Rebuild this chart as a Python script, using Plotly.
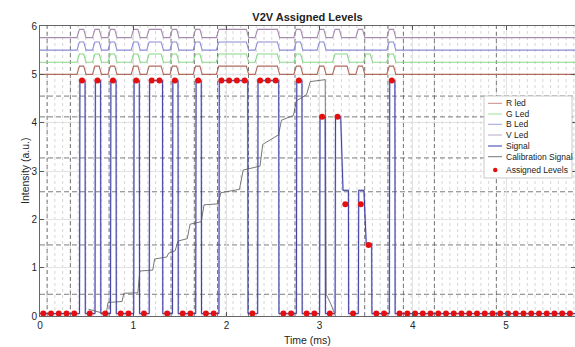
import plotly.graph_objects as go

# ---------------- data ----------------
T = 0.0831          # symbol period (ms)
T0 = 0.035          # time of first symbol sample (ms)
X_END = 5.74

# assigned (quantised) level per symbol
assigned_levels = [
    0.05, 0.05, 0.05, 0.05, 0.05, 4.87, 0.05, 4.87, 0.05, 4.87,
    0.05, 0.05, 4.87, 0.05, 4.87, 4.87, 0.05, 4.87, 0.05, 0.05,
    4.87, 0.05, 0.05, 4.87, 4.87, 4.87, 4.87, 0.05, 4.87, 4.87,
    4.87, 0.05, 0.05, 4.87, 0.05, 0.05, 4.12, 0.05, 4.12, 2.31,
    0.05, 2.31, 1.47, 0.05, 0.05, 4.87, 0.05, 0.05, 0.05, 0.05,
    0.05, 0.05, 0.05, 0.05, 0.05, 0.05, 0.05, 0.05, 0.05, 0.05,
    0.05, 0.05, 0.05, 0.05, 0.05, 0.05, 0.05, 0.05, 0.05,
]
# measured signal level per symbol
signal_levels = [
    0.05, 0.05, 0.05, 0.05, 0.05, 4.87, 0.05, 4.87, 0.05, 4.87,
    0.05, 0.05, 4.87, 0.05, 4.87, 4.87, 0.05, 4.87, 0.05, 0.05,
    4.87, 0.05, 0.05, 4.87, 4.87, 4.87, 4.87, 0.05, 4.87, 4.87,
    4.87, 0.05, 0.05, 4.87, 0.05, 0.05, 4.12, 0.05, 4.12, 2.60,
    0.05, 2.60, 1.50, 0.05, 0.05, 4.87, 0.05, 0.05, 0.05, 0.05,
    0.05, 0.05, 0.05, 0.05, 0.05, 0.05, 0.05, 0.05, 0.05, 0.05,
    0.05, 0.05, 0.05, 0.05, 0.05, 0.05, 0.05, 0.05, 0.05,
]
# LED on/off state per symbol
led_R = [0,0,0,0,0,1,0,1,0,1, 0,0,1,0,1,1,0,1,0,0, 1,0,0,1,1,1,1,0,1,1,
         1,0,0,1,0,0,1,0,1,1, 0,1,0,0,0,1,0,0,0,0, 0,0,0,0,0,0,0,0,0,0,
         0,0,0,0,0,0,0,0,0]
led_G = [0,0,0,0,0,1,0,1,0,1, 0,0,1,0,1,1,0,1,0,0, 1,0,0,1,1,1,1,0,1,1,
         1,0,0,1,0,0,0,0,1,1, 0,0,1,0,0,1,0,0,0,0, 0,0,0,0,0,0,0,0,0,0,
         0,0,0,0,0,0,0,0,0]
led_B = [0,0,0,0,0,1,0,1,0,1, 0,0,1,0,1,1,0,1,0,0, 1,0,0,1,1,1,1,0,1,1,
         1,0,0,1,0,0,1,0,0,0, 0,0,0,0,0,1,0,0,0,0, 0,0,0,0,0,0,0,0,0,0,
         0,0,0,0,0,0,0,0,0]
led_V = [0,0,0,0,0,1,0,1,0,1, 0,0,1,0,1,1,0,1,0,0, 1,0,0,1,1,1,1,0,1,1,
         1,0,0,1,0,0,1,0,1,0, 0,1,0,0,0,1,0,0,0,0, 0,0,0,0,0,0,0,0,0,0,
         0,0,0,0,0,0,0,0,0]
led_base = {"R": 5.0, "G": 5.25, "B": 5.5, "V": 5.76}
LED_AMP = 0.17

# calibration staircase
calib_t = [0.52, 0.62, 0.71, 0.73, 0.88, 0.90, 1.05, 1.07, 1.21, 1.23, 1.36, 1.38,
           1.45, 1.48, 1.58, 1.61, 1.73, 1.76, 1.91, 1.94, 2.14, 2.18, 2.36, 2.39,
           2.56, 2.59, 2.72, 2.75, 2.86, 2.90, 3.06, 3.07, 3.12, 3.17]
calib_v = [0.14, 0.08, 0.04, 0.28, 0.30, 0.47, 0.48, 0.93, 0.95, 1.18, 1.22, 1.30,
           1.35, 1.55, 1.60, 1.90, 1.95, 2.30, 2.32, 2.55, 2.62, 3.02, 3.10, 3.55,
           3.75, 4.05, 4.15, 4.45, 4.58, 4.85, 4.89, 0.45, 0.25, 0.0]

# decision thresholds (dark dashed horizontal lines)
threshold_levels = [0.45, 1.47, 2.57, 3.27, 4.12, 4.55]
# symbol boundaries marked with dark dashed vertical lines
marked_boundaries = [0, 3, 8, 16, 19, 22, 26, 32, 41, 44, 46, 50, 58]

x_ticks = [0, 1, 2, 3, 4, 5]
y_ticks = [0, 1, 2, 3, 4, 5, 6]

N = len(assigned_levels)
times = [T0 + k * T for k in range(N)]
LOW = 0.05
FONT = "Liberation Sans, Arial, sans-serif"


def signal_path(levels):
    xs, ys = [0.0], [LOW]
    k = 0
    while k < N:
        if levels[k] > LOW + 0.01:
            xs += [times[k] - 0.32 * T, times[k] - 0.27 * T]
            ys += [LOW, levels[k]]
            j = k
            while j + 1 < N and levels[j + 1] > LOW + 0.01:
                if levels[j + 1] != levels[j]:
                    xs += [times[j] + 0.40 * T, times[j + 1] - 0.30 * T]
                    ys += [levels[j], levels[j + 1]]
                j += 1
            xs += [times[j] + 0.40 * T, times[j] + 0.43 * T]
            ys += [levels[j], LOW]
            k = j + 1
        else:
            k += 1
    xs.append(X_END)
    ys.append(LOW)
    return xs, ys


def led_path(states, base):
    xs, ys = [0.0], [base]
    k = 0
    while k < N:
        if states[k]:
            j = k
            while j + 1 < N and states[j + 1]:
                j += 1
            xs += [times[k] - 0.65 * T, times[k] - 0.33 * T,
                   times[j] + 0.22 * T, times[j] + 0.52 * T]
            ys += [base, base + LED_AMP, base + LED_AMP, base]
            k = j + 1
        else:
            k += 1
    xs.append(X_END)
    ys.append(base)
    return xs, ys


fig = go.Figure()

# ---- grid (below traces) ----
shapes = []
for k in range(N):
    b = times[k] + 0.5 * T
    if b < X_END:
        shapes.append(dict(type="line", xref="x", yref="y", x0=b, x1=b, y0=0, y1=6,
                           line=dict(color="#cccccc", width=0.8, dash="3px,3px"),
                           layer="below"))
for kb in marked_boundaries:
    b = times[kb] + 0.5 * T
    shapes.append(dict(type="line", xref="x", yref="y", x0=b, x1=b, y0=0, y1=6,
                       line=dict(color="#5a5a5a", width=0.8, dash="4px,3px"),
                       layer="below"))
for lv in threshold_levels:
    shapes.append(dict(type="line", xref="x", yref="y", x0=0, x1=X_END, y0=lv, y1=lv,
                       line=dict(color="#5a5a5a", width=0.8, dash="5px,3px"),
                       layer="below"))

led_colors = {"R": "#b06a5c", "G": "#88d888", "B": "#8c8cd6", "V": "#a68cae"}
led_names = {"R": "R led", "G": "G Led", "B": "B Led", "V": "V Led"}
led_states = {"R": led_R, "G": led_G, "B": led_B, "V": led_V}
for key in ["R", "G", "B", "V"]:
    lx, ly = led_path(led_states[key], led_base[key])
    fig.add_trace(go.Scatter(x=lx, y=ly, mode="lines", name=led_names[key],
                             line=dict(color=led_colors[key], width=1.1)))

sx, sy = signal_path(signal_levels)
fig.add_trace(go.Scatter(x=sx, y=sy, mode="lines", name="Signal halo", showlegend=False,
                         line=dict(color="rgba(130,130,220,0.35)", width=2.0), hoverinfo="skip"))
fig.add_trace(go.Scatter(x=sx, y=sy, mode="lines", name="Signal",
                         line=dict(color="#30309a", width=0.9)))
fig.add_trace(go.Scatter(x=calib_t, y=calib_v, mode="lines", name="Calibration Signal",
                         line=dict(color="#555555", width=0.8)))
fig.add_trace(go.Scatter(x=times, y=assigned_levels, mode="markers", name="Assigned Levels",
                         marker=dict(color="#e41010", size=6), cliponaxis=False))

# ---- manual legend (MATLAB style compact box) ----
L, R, TOP, BOT = 40, 575, 26, 316
W, H = R - L, BOT - TOP


def px(xp):
    return (xp - L) / W


def py(yp):
    return (BOT - yp) / H


shapes.append(dict(type="rect", xref="paper", yref="paper", x0=px(484), x1=px(572),
                   y0=py(178), y1=py(96), fillcolor="white",
                   line=dict(color="#bbbbbb", width=0.8), layer="above"))
legend_rows = [("R led", "#c88a84", "line"), ("G Led", "#9ae29a", "line"),
               ("B Led", "#a0a0e0", "line"), ("V Led", "#b8a8c4", "line"),
               ("Signal", "#7070c8", "line"), ("Calibration Signal", "#777777", "line"),
               ("Assigned Levels", "#e41010", "dot")]
legend_y = [103.3, 114, 124.3, 135, 146, 156.7, 170]
annotations = []
for (txt, col, kind), yy in zip(legend_rows, legend_y):
    if kind == "line":
        shapes.append(dict(type="line", xref="paper", yref="paper", x0=px(488), x1=px(502),
                           y0=py(yy), y1=py(yy),
                           line=dict(color=col, width=1.4 if txt == "Signal" else 1),
                           layer="above"))
    else:
        shapes.append(dict(type="circle", xref="paper", yref="paper",
                           x0=px(493), x1=px(497.5), y0=py(yy + 2.2), y1=py(yy - 2.2),
                           fillcolor=col, line=dict(color=col, width=0), layer="above"))
    annotations.append(dict(text=txt, xref="paper", yref="paper", x=px(503.5), y=py(yy),
                            xanchor="left", yanchor="middle", showarrow=False,
                            font=dict(size=8.5, color="#222222", family=FONT)))

annotations.append(dict(text="Time (ms)", xref="paper", yref="paper", x=0.5, y=py(339.5),
                        xanchor="center", yanchor="middle", showarrow=False,
                        font=dict(size=10.5, color="#262626", family=FONT)))
annotations.append(dict(text="Intensity (a.u.)", xref="paper", yref="paper", x=px(25), y=0.5,
                        xanchor="center", yanchor="middle", showarrow=False, textangle=-90,
                        font=dict(size=10.5, color="#262626", family=FONT)))

axis_common = dict(showline=True, linecolor="#666666", linewidth=1, mirror="ticks",
                   ticks="inside", ticklen=4, tickcolor="#555555", zeroline=False,
                   showgrid=True, gridcolor="#e2e2e2", gridwidth=1,
                   tickfont=dict(size=10, color="#262626", family=FONT))

fig.update_layout(
    width=575, height=347,
    margin=dict(l=L, r=575 - R, t=TOP, b=347 - BOT),
    paper_bgcolor="white", plot_bgcolor="white",
    showlegend=False,
    title=dict(text="<b>V2V Assigned Levels</b>", x=307.5 / 575, xanchor="center",
               y=1 - 17 / 347, yanchor="middle",
               font=dict(size=11, color="#222222", family=FONT)),
    xaxis=dict(range=[0, X_END], tickvals=x_ticks, **axis_common),
    yaxis=dict(range=[0, 6], tickvals=y_ticks, **axis_common),
    shapes=shapes,
    annotations=annotations,
)

fig.write_html("out.html")
